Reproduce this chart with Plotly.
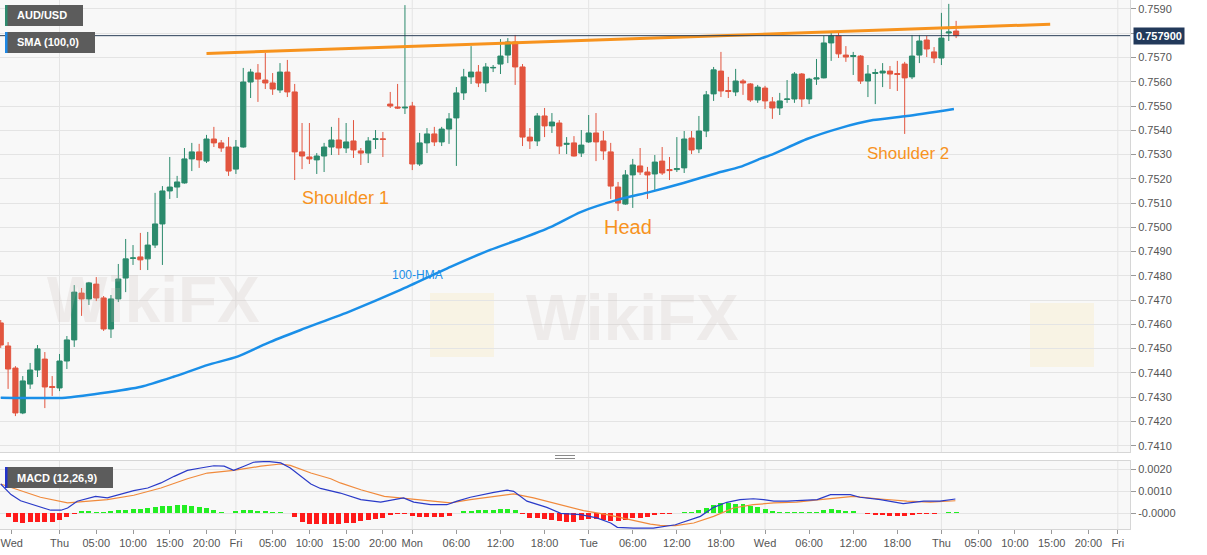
import plotly.graph_objects as go

# ---------------- data ----------------
bar_index = list(range(-8, 123))   # hourly bars, 0 = Thu 00:00

opens = [0.74606, 0.74511, 0.74420, 0.74235, 0.74354, 0.74412, 0.74457, 0.74344,
         0.74338, 0.74449, 0.74536, 0.74729, 0.74705, 0.74766, 0.74709, 0.74581, 0.74705, 0.74791,
         0.74872, 0.74878, 0.74870, 0.74927, 0.75014, 0.75150, 0.75166, 0.75183, 0.75282, 0.75311,
         0.75273, 0.75364, 0.75348, 0.75331, 0.75240, 0.75331, 0.75599, 0.75636, 0.75607, 0.75595,
         0.75566, 0.75640, 0.75558, 0.75311, 0.75290, 0.75278, 0.75294, 0.75331, 0.75360, 0.75327,
         0.75356, 0.75315, 0.75306, 0.75362, 0.75365, 0.75508, 0.75496, 0.75492, 0.75500, 0.75261,
         0.75348, 0.75385, 0.75352, 0.75405, 0.75451, 0.75554, 0.75620, 0.75640, 0.75595, 0.75657,
         0.75673, 0.75710, 0.75764, 0.75661, 0.75372, 0.75356, 0.75459, 0.75418, 0.75430, 0.75342,
         0.75348, 0.75306, 0.75352, 0.75389, 0.75356, 0.75311, 0.75166, 0.75096, 0.75216, 0.75253,
         0.75228, 0.75220, 0.75273, 0.75238, 0.75238, 0.75245, 0.75368, 0.75323, 0.75397, 0.75550,
         0.75644, 0.75564, 0.75558, 0.75603, 0.75591, 0.75525, 0.75574, 0.75517, 0.75492, 0.75527,
         0.75529, 0.75632, 0.75529, 0.75611, 0.75616, 0.75760, 0.75789, 0.75710, 0.75704, 0.75706,
         0.75603, 0.75634, 0.75636, 0.75644, 0.75634, 0.75673, 0.75620, 0.75710, 0.75772, 0.75723,
         0.75698, 0.75801, 0.75809]
highs = [0.74618, 0.74527, 0.74428, 0.74387, 0.74441, 0.74515, 0.74486, 0.74387,
         0.74478, 0.74552, 0.74762, 0.74750, 0.74775, 0.74795, 0.74717, 0.74721, 0.74849, 0.74952,
         0.74927, 0.74977, 0.74981, 0.75142, 0.75170, 0.75290, 0.75212, 0.75327, 0.75348, 0.75344,
         0.75381, 0.75414, 0.75360, 0.75372, 0.75360, 0.75657, 0.75653, 0.75673, 0.75719, 0.75636,
         0.75677, 0.75690, 0.75591, 0.75430, 0.75430, 0.75306, 0.75348, 0.75414, 0.75451, 0.75430,
         0.75442, 0.75327, 0.75372, 0.75401, 0.75393, 0.75558, 0.75591, 0.75916, 0.75517, 0.75389,
         0.75409, 0.75414, 0.75414, 0.75471, 0.75578, 0.75653, 0.75747, 0.75669, 0.75677, 0.75669,
         0.75776, 0.75780, 0.75793, 0.75673, 0.75409, 0.75471, 0.75492, 0.75471, 0.75442, 0.75372,
         0.75376, 0.75401, 0.75463, 0.75471, 0.75397, 0.75348, 0.75187, 0.75236, 0.75282, 0.75327,
         0.75249, 0.75298, 0.75331, 0.75290, 0.75372, 0.75397, 0.75397, 0.75459, 0.75562, 0.75661,
         0.75723, 0.75620, 0.75653, 0.75611, 0.75595, 0.75587, 0.75583, 0.75537, 0.75554, 0.75607,
         0.75640, 0.75636, 0.75616, 0.75694, 0.75789, 0.75801, 0.75801, 0.75747, 0.75723, 0.75710,
         0.75669, 0.75653, 0.75677, 0.75665, 0.75686, 0.75682, 0.75793, 0.75793, 0.75789, 0.75743,
         0.75884, 0.75921, 0.75851]
lows = [0.74503, 0.74334, 0.74222, 0.74230, 0.74334, 0.74383, 0.74255, 0.74305,
        0.74325, 0.74416, 0.74507, 0.74635, 0.74680, 0.74696, 0.74573, 0.74544, 0.74692, 0.74733,
        0.74845, 0.74824, 0.74824, 0.74915, 0.74845, 0.75117, 0.75121, 0.75180, 0.75232, 0.75245,
        0.75265, 0.75331, 0.75311, 0.75212, 0.75220, 0.75328, 0.75533, 0.75517, 0.75570, 0.75546,
        0.75554, 0.75537, 0.75195, 0.75240, 0.75261, 0.75220, 0.75228, 0.75298, 0.75298, 0.75306,
        0.75286, 0.75257, 0.75265, 0.75323, 0.75290, 0.75492, 0.75488, 0.75467, 0.75236, 0.75253,
        0.75306, 0.75335, 0.75335, 0.75344, 0.75253, 0.75525, 0.75591, 0.75578, 0.75558, 0.75640,
        0.75632, 0.75677, 0.75587, 0.75335, 0.75323, 0.75335, 0.75372, 0.75389, 0.75302, 0.75302,
        0.75292, 0.75290, 0.75348, 0.75273, 0.75278, 0.75117, 0.75067, 0.75093, 0.75080, 0.75216,
        0.75117, 0.75154, 0.75216, 0.75195, 0.75228, 0.75224, 0.75302, 0.75306, 0.75372, 0.75521,
        0.75537, 0.75533, 0.75541, 0.75546, 0.75517, 0.75513, 0.75488, 0.75447, 0.75463, 0.75513,
        0.75513, 0.75496, 0.75508, 0.75587, 0.75614, 0.75686, 0.75698, 0.75682, 0.75628, 0.75591,
        0.75537, 0.75508, 0.75578, 0.75570, 0.75562, 0.75385, 0.75611, 0.75677, 0.75702, 0.75677,
        0.75669, 0.75768, 0.75780]
closes = [0.74515, 0.74416, 0.74235, 0.74367, 0.74412, 0.74499, 0.74342, 0.74340,
          0.74449, 0.74536, 0.74733, 0.74705, 0.74771, 0.74709, 0.74581, 0.74705, 0.74787, 0.74870,
          0.74874, 0.74866, 0.74927, 0.75014, 0.75150, 0.75166, 0.75187, 0.75282, 0.75311, 0.75278,
          0.75364, 0.75348, 0.75327, 0.75232, 0.75331, 0.75599, 0.75640, 0.75611, 0.75595, 0.75570,
          0.75640, 0.75558, 0.75311, 0.75294, 0.75282, 0.75294, 0.75331, 0.75360, 0.75327, 0.75352,
          0.75319, 0.75306, 0.75356, 0.75365, 0.75362, 0.75500, 0.75492, 0.75495, 0.75261, 0.75348,
          0.75385, 0.75352, 0.75405, 0.75447, 0.75554, 0.75620, 0.75640, 0.75595, 0.75661, 0.75659,
          0.75706, 0.75764, 0.75661, 0.75372, 0.75356, 0.75459, 0.75418, 0.75434, 0.75335, 0.75346,
          0.75294, 0.75339, 0.75389, 0.75352, 0.75315, 0.75170, 0.75100, 0.75216, 0.75257, 0.75228,
          0.75216, 0.75269, 0.75224, 0.75234, 0.75242, 0.75364, 0.75319, 0.75397, 0.75546, 0.75649,
          0.75562, 0.75560, 0.75603, 0.75595, 0.75525, 0.75578, 0.75521, 0.75492, 0.75521, 0.75529,
          0.75632, 0.75529, 0.75611, 0.75616, 0.75760, 0.75789, 0.75715, 0.75702, 0.75708, 0.75603,
          0.75632, 0.75638, 0.75644, 0.75632, 0.75630, 0.75616, 0.75706, 0.75768, 0.75735, 0.75698,
          0.75780, 0.75805, 0.75790]

# 100-HMA line
hma_x = [-8.0, 0.8, 5.6, 11.1, 15.5, 20.2, 24.2, 28.3, 32.8, 39.6, 46.4, 53.2, 58.6, 62.7,
         66.8, 70.9, 75.9, 80.4, 84.9, 89.5, 92.6, 95.3, 97.1, 101.7, 106.2, 110.7, 115.3, 121.7]
hma_y = [0.74298, 0.74298, 0.74316, 0.74343, 0.74384, 0.74433, 0.74467, 0.74523, 0.74577,
         0.74655, 0.74742, 0.74837, 0.74907, 0.74952, 0.75001, 0.75063, 0.75113, 0.75146,
         0.75183, 0.75224, 0.75249, 0.75282, 0.75302, 0.75364, 0.75409, 0.75442, 0.75459, 0.75488]

# neckline / resistance
trend_x = [20.0, 134.8]
trend_y = [0.75717, 0.75837]

# MACD (12,26,9)
macd_x = [-8, -6.6, -5.3, -3.9, -2.1, -1.2, 0.2, 1.1, 2.4, 3.8, 4.9, 6.5, 8.3, 10.1, 12.0, 13.8,
          15.6, 17.4, 19.2, 21.0, 22.4, 23.7, 25.1, 26.4, 28.3, 30.1, 31.4, 32.8, 34.2, 35.5,
          38.2, 41.0, 43.7, 46.8, 48.2, 50.5, 52.7, 54.1, 55.9, 59.1, 60.9, 61.8, 63.6, 66.3,
          68.2, 70.9, 73.1, 75.0, 75.9, 78.1, 80.8, 83.8, 85.4, 87.2, 89.0, 90.8, 92.6, 94.4,
          95.8, 97.2, 99.0, 100.8, 103.1, 104.9, 107.6, 108.9, 111.7, 114.8, 117.6, 119.8, 121.9]
macd_y = [0.00133, 0.00085, 0.00057, 0.00042, 0.00024, 0.00014, 0.00014, 0.00024, 0.00055,
          0.00066, 0.00077, 0.00070, 0.00085, 0.00103, 0.00115, 0.00138, 0.00168, 0.00195,
          0.00206, 0.00216, 0.00214, 0.00195, 0.00214, 0.00232, 0.00236, 0.00229, 0.00206,
          0.00168, 0.00133, 0.00113, 0.00092, 0.00062, 0.00051, 0.00070, 0.00051, 0.00039,
          0.00039, 0.00055, 0.00073, 0.00095, 0.00105, 0.00100, 0.00055, 0.00027, 0.00000,
          -0.00006, -0.00021, -0.00044, -0.00064, -0.00067, -0.00067, -0.00052, -0.00034,
          -0.00014, 0.00027, 0.00050, 0.00062, 0.00066, 0.00062, 0.00055, 0.00055, 0.00057,
          0.00062, 0.00085, 0.00085, 0.00073, 0.00062, 0.00044, 0.00055, 0.00055, 0.00065]
signal_x = [-8, -5.3, -2.6, 1.1, 3.8, 6.5, 10.1, 13.8, 17.4, 20.1, 23.7, 27.4, 30.1, 31.4, 34.2,
            36.9, 38.2, 41.0, 44.2, 47.3, 50.5, 53.2, 55.9, 59.1, 61.8, 64.5, 68.2, 71.3, 74.5,
            77.6, 80.4, 81.7, 83.8, 86.3, 89.0, 91.7, 94.4, 97.2, 100.3, 103.5, 108.0, 111.7,
            115.3, 118.5, 121.9]
signal_y = [0.00133, 0.00103, 0.00073, 0.00047, 0.00055, 0.00062, 0.00082, 0.00115, 0.00157,
            0.00183, 0.00195, 0.00214, 0.00224, 0.00218, 0.00183, 0.00157, 0.00138, 0.00107,
            0.00077, 0.00066, 0.00055, 0.00047, 0.00062, 0.00077, 0.00088, 0.00070, 0.00039,
            0.00012, -0.00006, -0.00029, -0.00049, -0.00055, -0.00056, -0.00044, -0.00014,
            0.00024, 0.00039, 0.00047, 0.00051, 0.00062, 0.00077, 0.00065, 0.00055, 0.00051, 0.00057]
hist = [0.00002, -0.00016, -0.00041, -0.00045, -0.00041, -0.00039, -0.00039, -0.00041,
        -0.00032, -0.00018, -0.00002, 0.00009, 0.00009, 0.00007, 0.00007, 0.00009, 0.00014, 0.00016,
        0.00018, 0.00020, 0.00023, 0.00030, 0.00034, 0.00034, 0.00036, 0.00036, 0.00032, 0.00027,
        0.00023, 0.00014, 0.00005, 0.00002, 0.00009, 0.00014, 0.00014, 0.00011, 0.00009, 0.00007,
        0.00005, 0.00001, -0.00018, -0.00041, -0.00050, -0.00050, -0.00050, -0.00050, -0.00048, -0.00045,
        -0.00043, -0.00036, -0.00032, -0.00027, -0.00020, -0.00009, -0.00005, -0.00002, -0.00014, -0.00016,
        -0.00016, -0.00016, -0.00016, -0.00011, 0.00001, 0.00009, 0.00011, 0.00014, 0.00016, 0.00016,
        0.00018, 0.00020, 0.00014, -0.00005, -0.00020, -0.00023, -0.00027, -0.00032, -0.00036, -0.00039,
        -0.00039, -0.00032, -0.00027, -0.00027, -0.00030, -0.00034, -0.00036, -0.00032, -0.00023, -0.00020,
        -0.00016, -0.00007, -0.00005, -0.00002, 0.00002, 0.00007, 0.00007, 0.00014, 0.00023, 0.00036,
        0.00045, 0.00045, 0.00043, 0.00041, 0.00032, 0.00027, 0.00018, 0.00009, 0.00005, 0.00004,
        0.00004, 0.00004, 0.00004, 0.00005, 0.00014, 0.00018, 0.00016, 0.00011, 0.00011, 0.00001,
        -0.00005, -0.00007, -0.00009, -0.00011, -0.00011, -0.00014, -0.00009, -0.00002, -0.00001, -0.00001,
        0.00002, 0.00004, 0.00004]

tick_pos = [-6.5, 0, 5, 10, 15, 20, 24, 29, 34, 39, 44, 48, 54, 60, 66, 72, 78, 84, 90,
            96, 102, 108, 114, 120, 125, 130, 135, 140, 144]
tick_text = ['Wed', 'Thu', '05:00', '10:00', '15:00', '20:00', 'Fri', '05:00', '10:00', '15:00',
             '20:00', 'Mon', '06:00', '12:00', '18:00', 'Tue', '06:00', '12:00', '18:00', 'Wed',
             '06:00', '12:00', '18:00', 'Thu', '05:00', '10:00', '15:00', '20:00', 'Fri']
day_lines = [0, 24, 48, 72, 96, 120, 144]

price_ticks = [0.741, 0.742, 0.743, 0.744, 0.745, 0.746, 0.747, 0.748, 0.749, 0.750,
               0.751, 0.752, 0.753, 0.754, 0.755, 0.756, 0.757, 0.758, 0.759]
# 0.7580 label is covered by the last-price tag in the reference
price_tick_text = ['%.4f' % v if abs(v - 0.758) > 1e-9 else '' for v in price_ticks]
macd_ticks = [0.002, 0.001, 0.0]
macd_tick_text = ['0.0020', '0.0010', '-0.0000']

labels = [("Shoulder 1", 38.9, 0.75121, 18), ("Head", 77.3, 0.75001, 20),
          ("Shoulder 2", 115.4, 0.75306, 17)]

# ---------------- styling ----------------
GREEN = '#2b8a6c'
RED = '#e2553f'
ORANGE = '#f7931e'
FONT = 'Liberation Sans, Arial, sans-serif'
W, H = 1207, 555
L, R, T, B = 0, 77, 0, 26
PW, PH = W - L - R, H - T - B

def px_x(x):
    return x / PW

def px_y(y):
    return 1 - y / PH

fig = go.Figure()

fig.add_trace(go.Candlestick(
    x=bar_index, open=opens, high=highs, low=lows, close=closes,
    increasing=dict(line=dict(color=GREEN, width=1), fillcolor=GREEN),
    decreasing=dict(line=dict(color=RED, width=1), fillcolor=RED),
    whiskerwidth=0, showlegend=False, hoverinfo='skip', xaxis='x', yaxis='y'))

fig.add_trace(go.Scatter(x=hma_x, y=hma_y, mode='lines',
                         line=dict(color='#1a8fe8', width=2.5, shape='spline', smoothing=0.6),
                         showlegend=False, hoverinfo='skip', xaxis='x', yaxis='y'))
fig.add_trace(go.Scatter(x=trend_x, y=trend_y, mode='lines',
                         line=dict(color=ORANGE, width=3),
                         showlegend=False, hoverinfo='skip', xaxis='x', yaxis='y'))

hist_colors = ['#ff1a1a' if v < 0 else '#22ee22' for v in hist]
fig.add_trace(go.Bar(x=bar_index, y=hist, marker=dict(color=hist_colors, line=dict(width=0)),
                     width=0.68, showlegend=False, hoverinfo='skip', xaxis='x2', yaxis='y2'))
fig.add_trace(go.Scatter(x=signal_x, y=signal_y, mode='lines', line=dict(color='#f08a3c', width=1.2),
                         showlegend=False, hoverinfo='skip', xaxis='x2', yaxis='y2'))
fig.add_trace(go.Scatter(x=macd_x, y=macd_y, mode='lines', line=dict(color='#2a3ac8', width=1.2),
                         showlegend=False, hoverinfo='skip', xaxis='x2', yaxis='y2'))

xrange = [-8.1, 145.66]
main_dom = [px_y(452), 1]
macd_dom = [0, px_y(461)]

axis_line = '#d6d6d6'
grid = '#e4e4e4'

fig.update_layout(
    width=W, height=H,
    margin=dict(l=L, r=R, t=T, b=B, autoexpand=False),
    paper_bgcolor='white', plot_bgcolor='#f8f8f8',
    font=dict(family=FONT, size=11, color='#555555'),
    showlegend=False, bargap=0, boxgap=0.3, boxgroupgap=0,
    xaxis=dict(domain=[0, 1], anchor='y', range=xrange, showticklabels=False, ticks='',
               showgrid=False, zeroline=False, rangeslider=dict(visible=False),
               showline=True, mirror=True, linecolor=axis_line, fixedrange=True),
    yaxis=dict(domain=main_dom, anchor='x', side='right', range=[0.74074, 0.75937],
               tickvals=price_ticks, ticktext=price_tick_text, showgrid=True, gridcolor=grid,
               zeroline=False, ticks='outside', ticklen=5, tickcolor='#999999',
               showline=True, mirror=True, linecolor=axis_line,
               tickfont=dict(size=11, color='#555555')),
    xaxis2=dict(domain=[0, 1], anchor='y2', range=xrange, tickvals=tick_pos, ticktext=tick_text,
                showgrid=False, zeroline=False, ticks='outside', ticklen=4, tickcolor='#999999',
                showline=True, mirror=True, linecolor=axis_line,
                tickfont=dict(size=11, color='#555555')),
    yaxis2=dict(domain=macd_dom, anchor='x2', side='right', range=[-0.000714, 0.002377],
                tickvals=macd_ticks, ticktext=macd_tick_text, showgrid=True, gridcolor=grid,
                zeroline=False, ticks='outside', ticklen=5, tickcolor='#999999',
                showline=True, mirror=True, linecolor=axis_line,
                tickfont=dict(size=11, color='#555555')),
)

shapes = []
# day separators
for d in day_lines:
    shapes.append(dict(type='line', xref='x', yref='y domain', x0=d, x1=d, y0=0, y1=1,
                       line=dict(color=grid, width=1), layer='below'))
    shapes.append(dict(type='line', xref='x2', yref='y2 domain', x0=d, x1=d, y0=0, y1=1,
                       line=dict(color=grid, width=1), layer='below'))

# watermark logo squares (faint)
for (cx, cy) in [(462, 325), (1062, 335)]:
    shapes.append(dict(type='rect', xref='paper', yref='paper',
                       x0=px_x(cx - 32), x1=px_x(cx + 32), y0=px_y(cy + 32), y1=px_y(cy - 32),
                       fillcolor='rgba(250,226,160,0.22)', line=dict(width=0), layer='below'))

# last price line
last = closes[-1]
shapes.append(dict(type='line', xref='paper', yref='y', x0=0, x1=1, y0=last, y1=last,
                   line=dict(color='#2b3f58', width=1)))

# info boxes (top-left)
for (x0, x1, y0, y1, stripe) in [(5, 83, 5, 26, '#2e8b6e'), (5, 95, 32, 53, '#1e88e5'),
                                 (5, 113, 467, 488, '#2233cc')]:
    shapes.append(dict(type='rect', xref='paper', yref='paper', x0=px_x(x0), x1=px_x(x1),
                       y0=px_y(y1), y1=px_y(y0), fillcolor='#5c5c5c', line=dict(width=0)))
    shapes.append(dict(type='rect', xref='paper', yref='paper', x0=px_x(x0), x1=px_x(x0 + 2.5),
                       y0=px_y(y1), y1=px_y(y0), fillcolor=stripe, line=dict(width=0)))

# pane separator handle
for yy in (455.5, 458.5):
    shapes.append(dict(type='line', xref='paper', yref='paper', x0=px_x(555), x1=px_x(575),
                       y0=px_y(yy), y1=px_y(yy), line=dict(color='#8a8a8a', width=1)))

fig.update_layout(shapes=shapes)

ann = []
# watermark text
for (cx, cy, sz) in [(632, 318, 64), (45, 300, 64)]:
    ann.append(dict(xref='paper', yref='paper', x=px_x(cx), y=px_y(cy), text='<b>WikiFX</b>',
                    showarrow=False, font=dict(size=sz, color='rgba(200,185,180,0.2)', family=FONT)))

for (txt, x, y, sz) in labels:
    ann.append(dict(x=x, y=y, xref='x', yref='y', text=txt, showarrow=False,
                    font=dict(size=sz, color=ORANGE, family=FONT)))
ann.append(dict(x=48.7, y=0.74804, xref='x', yref='y', text='100-HMA', showarrow=False,
                font=dict(size=12, color='#1a8fe8', family=FONT)))

for (txt, x, y) in [('AUD/USD', 15, 15.5), ('SMA (100,0)', 15, 42.5), ('MACD (12,26,9)', 15, 477.5)]:
    ann.append(dict(xref='paper', yref='paper', x=px_x(x), y=px_y(y), xanchor='left', yanchor='middle',
                    text='<b>%s</b>' % txt, showarrow=False,
                    font=dict(size=11, color='white', family=FONT)))

ann.append(dict(xref='paper', yref='y', x=1, y=last, xanchor='left', yanchor='middle', xshift=3,
                text='<b>%.6f</b>' % last, showarrow=False, bgcolor='#22395a', borderpad=2,
                font=dict(size=11, color='white', family=FONT)))
fig.update_layout(annotations=ann)

fig.write_html("out.html",
               config={'displayModeBar': False, 'staticPlot': True},
               post_script="document.body.style.margin='0';document.body.style.padding='0';"
                           "document.documentElement.style.margin='0';")
